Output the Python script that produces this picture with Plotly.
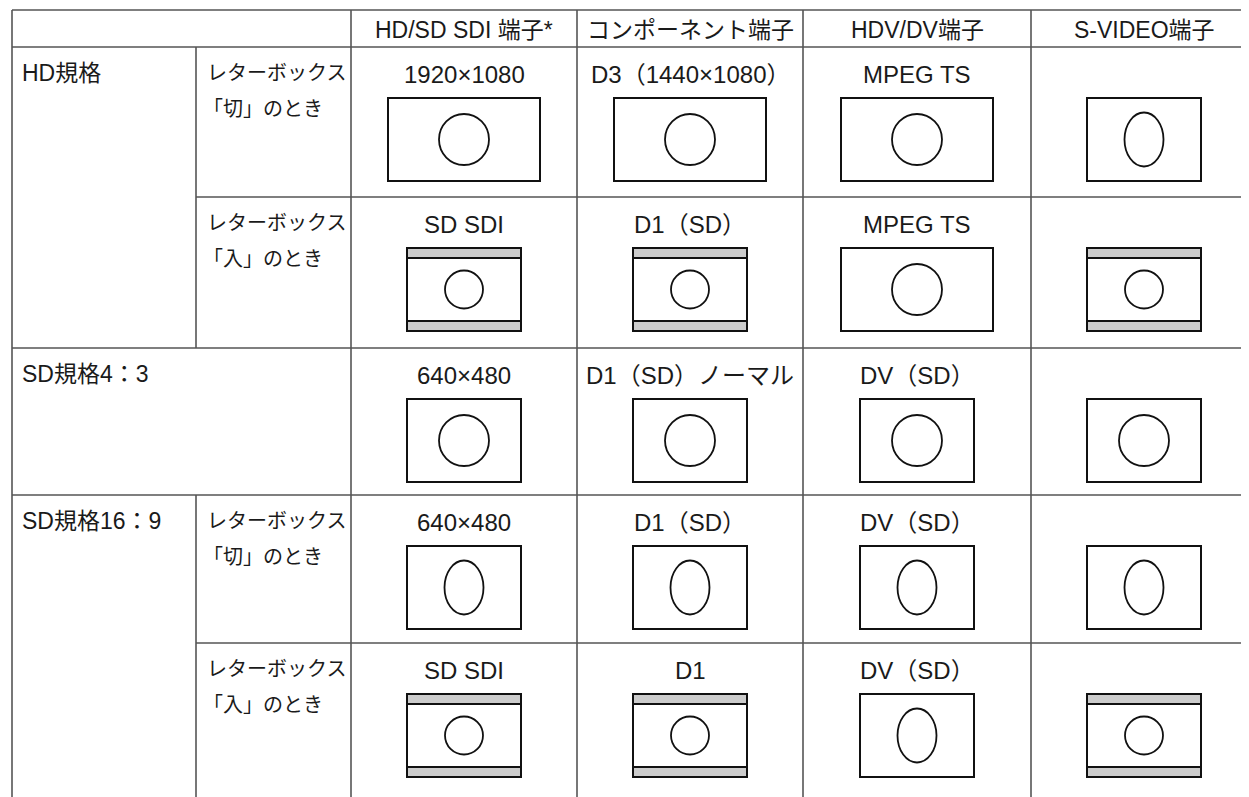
import plotly.graph_objects as go

# ---------------- data ----------------
header_labels = ["HD/SD SDI 端子*", "コンポーネント端子", "HDV/DV端子", "S-VIDEO端子"]

group_labels = ["HD規格", "SD規格4：3", "SD規格16：9"]
group_rows = [[0, 1], [2], [3, 4]]          # which data rows each group spans

sub_labels = [
    ["レターボックス", "「切」のとき"],
    ["レターボックス", "「入」のとき"],
    None,
    ["レターボックス", "「切」のとき"],
    ["レターボックス", "「入」のとき"],
]

cell_labels = [
    ["1920×1080", "D3（1440×1080）", "MPEG TS", ""],
    ["SD SDI", "D1（SD）", "MPEG TS", ""],
    ["640×480", "D1（SD）ノーマル", "DV（SD）", ""],
    ["640×480", "D1（SD）", "DV（SD）", ""],
    ["SD SDI", "D1", "DV（SD）", ""],
]

# picture type shown in each cell
cell_pictures = [
    ["wide_circle", "wide_circle", "wide_circle", "std_ellipse"],
    ["letterbox", "letterbox", "wide_circle", "letterbox"],
    ["std_circle", "std_circle", "std_circle", "std_circle"],
    ["std_ellipse", "std_ellipse", "std_ellipse", "std_ellipse"],
    ["letterbox", "letterbox", "std_ellipse", "letterbox"],
]

# ---------------- layout geometry ----------------
W, H = 1249, 797
OFF = 8  # page body margin
col_edges = [12, 196, 351, 577, 803, 1031, 1257]
row_edges = [10, 47, 197, 348, 495, 643, 800]

GRID = dict(color="#555555", width=1.6)
EDGE = dict(color="#111111", width=2)
FONT = "Liberation Sans, Arial, Noto Sans CJK JP, sans-serif"
TXT = "#1a1a1a"

shapes = []
annotations = []


def line(x0, y0, x1, y1):
    shapes.append(dict(type="line", x0=x0, y0=y0, x1=x1, y1=y1,
                       xref="x", yref="y", line=GRID, layer="below"))


def text(x, y, s, size, xanchor="center"):
    annotations.append(dict(x=x, y=y, text=s, showarrow=False, xref="x", yref="y",
                            xanchor=xanchor, yanchor="middle",
                            font=dict(family=FONT, size=size, color=TXT)))


# --- grid lines ---
line(col_edges[0], row_edges[0], W + 10, row_edges[0])
line(col_edges[0], row_edges[1], W + 10, row_edges[1])
for r in range(2, 6):
    above, below = r - 2, r - 1
    inside = any(above in g and below in g for g in group_rows)
    x_start = col_edges[1] if inside else col_edges[0]
    line(x_start, row_edges[r], W + 10, row_edges[r])
line(col_edges[0], row_edges[0], col_edges[0], H + 5)
for c in range(2, 6):
    line(col_edges[c], row_edges[0], col_edges[c], H + 5)
for r in range(5):
    if sub_labels[r] is not None:
        line(col_edges[1], row_edges[r + 1], col_edges[1], row_edges[r + 2] if r < 4 else H + 5)

# --- header text ---
for c, lab in enumerate(header_labels):
    cx = (col_edges[c + 2] + col_edges[c + 3]) / 2
    text(cx, (row_edges[0] + row_edges[1]) / 2 + 1, lab, 23)

# --- group + sub labels ---
for g, rows in zip(group_labels, group_rows):
    top = row_edges[rows[0] + 1]
    text(col_edges[0] + 8, top + 26, g, 23, xanchor="left")
for r, sl in enumerate(sub_labels):
    if sl is None:
        continue
    top = row_edges[r + 1]
    text(col_edges[1] + 9, top + 26, sl[0], 20, xanchor="left")
    text(col_edges[1] + 5, top + 62, sl[1], 20, xanchor="left")

# --- cell contents ---
WIDE_W, STD_W, PIC_H = 152, 114, 83
BAR = 10


def rect(x0, y0, x1, y1, fill):
    shapes.append(dict(type="rect", x0=x0, y0=y0, x1=x1, y1=y1, xref="x", yref="y",
                       line=EDGE, fillcolor=fill, layer="above"))


def ellipse(cx, cy, w, h):
    shapes.append(dict(type="circle", x0=cx - w / 2, y0=cy - h / 2, x1=cx + w / 2,
                       y1=cy + h / 2, xref="x", yref="y",
                       line=dict(color="#111111", width=1.8), fillcolor="white",
                       layer="above"))


for r in range(5):
    top = row_edges[r + 1]
    for c in range(4):
        cx = (col_edges[c + 2] + col_edges[c + 3]) / 2
        lab = cell_labels[r][c]
        if lab:
            text(cx, top + 27, lab, 24)
        kind = cell_pictures[r][c]
        y0 = top + 51
        y1 = y0 + PIC_H
        cy = (y0 + y1) / 2
        w = WIDE_W if kind.startswith("wide") else STD_W
        rect(cx - w / 2, y0, cx + w / 2, y1, "white")
        if kind in ("wide_circle", "std_circle"):
            ellipse(cx, cy, 50, 51)
        elif kind == "std_ellipse":
            ellipse(cx, cy, 39, 54)
        elif kind == "letterbox":
            rect(cx - w / 2, y0, cx + w / 2, y0 + BAR, "#cccccc")
            rect(cx - w / 2, y1 - BAR, cx + w / 2, y1, "#cccccc")
            ellipse(cx, cy, 38, 38)

fig = go.Figure()
fig.add_trace(go.Scatter(x=[OFF, W], y=[OFF, H], mode="markers",
                         marker=dict(opacity=0), hoverinfo="skip", showlegend=False))
fig.update_layout(
    width=W - OFF, height=H - OFF,
    margin=dict(l=0, r=0, t=0, b=0),
    paper_bgcolor="white", plot_bgcolor="white",
    xaxis=dict(range=[OFF, W], visible=False, fixedrange=True),
    yaxis=dict(range=[H, OFF], visible=False, fixedrange=True),
    shapes=shapes, annotations=annotations, showlegend=False,
)
fig.write_html("out.html", config={"displayModeBar": False})
